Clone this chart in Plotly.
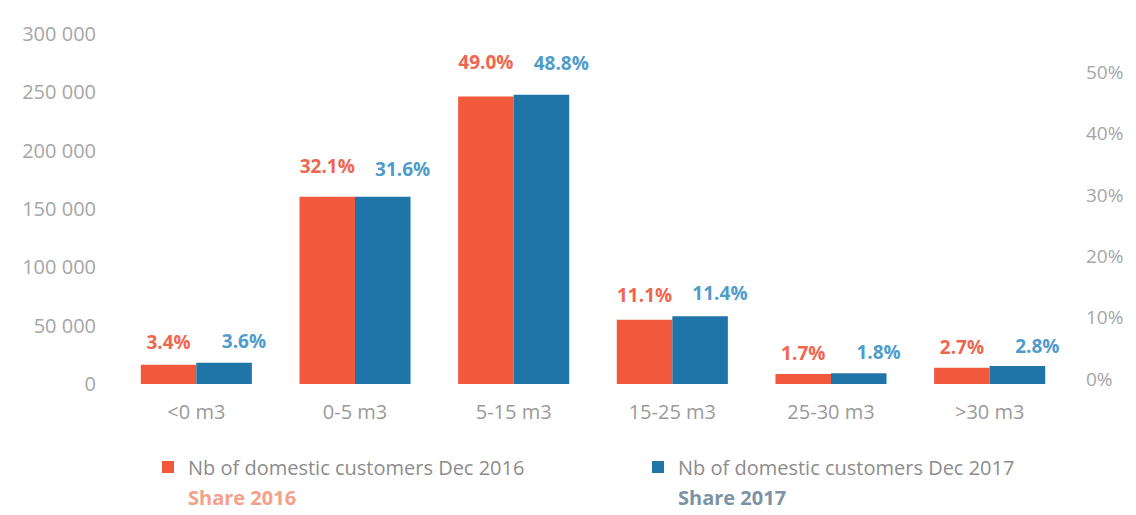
import plotly.graph_objects as go

categories = ["<0 m3", "0-5 m3", "5-15 m3", "15-25 m3", "25-30 m3", ">30 m3"]
customers_2016 = [16500, 160500, 246500, 55000, 8500, 14000]
customers_2017 = [18300, 160500, 248000, 58000, 9200, 15500]
share_2016 = [0.034, 0.321, 0.490, 0.111, 0.017, 0.027]
share_2017 = [0.036, 0.316, 0.488, 0.114, 0.018, 0.028]
left_ticks = [0, 50000, 100000, 150000, 200000, 250000, 300000]
left_ticktext = ["0", "50 000", "100 000", "150 000", "200 000", "250 000", "300 000"]
right_ticks = [0, 0.1, 0.2, 0.3, 0.4, 0.5]

RED = "#f2583c"
BLUE = "#1f74a8"
FONT = "Open Sans"
GREY = "#a6a6a6"

# The page body has an 8px margin, so the figure is drawn 8px in from the top-left.
W, H = 1128, 507

fig = go.Figure()

fig.add_trace(go.Bar(
    x=categories, y=customers_2016, name="Nb of domestic customers Dec 2016",
    marker=dict(color=RED, line=dict(width=0)), offset=-0.35, width=0.35,
    legend="legend",
))
fig.add_trace(go.Bar(
    x=categories, y=customers_2017, name="Nb of domestic customers Dec 2017",
    marker=dict(color=BLUE, line=dict(width=0)), offset=0.0, width=0.35,
    legend="legend2",
))
fig.add_trace(go.Bar(
    x=categories, y=share_2016, yaxis="y2",
    name="<span style='color:#f5a08a'><b>Share 2016</b></span>",
    marker=dict(color="rgba(0,0,0,0)", line=dict(width=0)), offset=-0.35, width=0.35,
    texttemplate="%{y:.1%}", textposition="outside", cliponaxis=False,
    constraintext="none",
    textfont=dict(family=FONT, size=19, color="#f0654f", weight="bold"),
    legend="legend3",
))
fig.add_trace(go.Bar(
    x=categories, y=share_2017, yaxis="y2",
    name="<span style='color:#7c93a6'><b>Share 2017</b></span>",
    marker=dict(color="rgba(0,0,0,0)", line=dict(width=0)), offset=0.125, width=0.35,
    texttemplate="%{y:.1%}", textposition="outside", cliponaxis=False,
    constraintext="none",
    textfont=dict(family=FONT, size=19, color="#4f9ccb", weight="bold"),
    legend="legend4",
))


def leg(xpx, ypx, size=20):
    return dict(
        orientation="h", xref="container", yref="container",
        x=xpx / W, y=1 - ypx / H, xanchor="left", yanchor="middle",
        font=dict(size=size, color="#8c8c8c"), bgcolor="rgba(0,0,0,0)",
    )


fig.update_layout(
    width=W, height=H,
    margin=dict(l=109, r=67, t=17, b=131),
    paper_bgcolor="white", plot_bgcolor="white",
    barmode="overlay",
    font=dict(family=FONT, color=GREY, size=18),
    xaxis=dict(
        type="category", showgrid=False, zeroline=False, showline=False,
        ticks="", ticklabelstandoff=14,
        tickfont=dict(size=20, color="#9a9a9a"),
    ),
    yaxis=dict(
        range=[0, 300000], tickvals=left_ticks, ticktext=left_ticktext,
        showgrid=False, zeroline=False, showline=False, ticks="",
        ticklabelstandoff=20, tickfont=dict(size=20, color=GREY),
    ),
    yaxis2=dict(
        overlaying="y", side="right", range=[-0.0079, 0.5619],
        tickvals=right_ticks, tickformat=".0%",
        showgrid=False, zeroline=False, showline=False, ticks="",
        ticklabelstandoff=16, tickfont=dict(size=19, color=GREY),
    ),
    legend=leg(140, 459),
    legend2=leg(630, 459),
    legend3=leg(140, 489),
    legend4=leg(630, 489),
    showlegend=True,
)

fig.write_html("out.html")
